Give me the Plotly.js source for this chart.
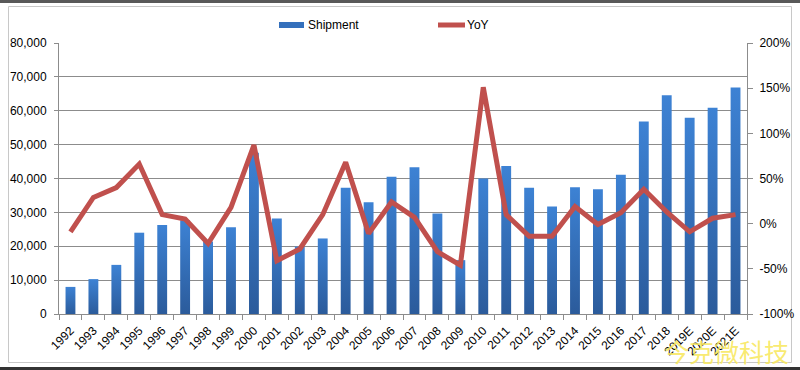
<!DOCTYPE html>
<html>
<head>
<meta charset="utf-8">
<script src="https://cdn.plot.ly/plotly-3.0.1.min.js"></script>
<style>
  html, body { margin: 0; padding: 0; background: #fff; }
  #chart { width: 800px; height: 370px; }
</style>
</head>
<body>
<div id="chart"></div>
<script>
// ---- data ----
const years = ["1992","1993","1994","1995","1996","1997","1998","1999","2000","2001",
               "2002","2003","2004","2005","2006","2007","2008","2009","2010","2011",
               "2012","2013","2014","2015","2016","2017","2018","2019E","2020E","2021E"];
const shipment = [8000,10300,14500,24000,26300,27700,21400,25600,47600,28200,
                  19900,22300,37300,33000,40500,43300,29700,15900,40000,43700,
                  37300,31700,37400,36800,41100,56800,64600,57900,60900,66900];
const yoy = [-9,29,40,66,10,5,-22,18,87,-41,
             -28,10,68,-11,24,7,-31,-46,151,10,
             -14,-14,19,-1,12,38,13,-9,6,10];
const leftTicks = [0,10000,20000,30000,40000,50000,60000,70000,80000];
const leftTickText = ["0","10,000","20,000","30,000","40,000","50,000","60,000","70,000","80,000"];
const rightTicks = [-100,-50,0,50,100,150,200];
const rightTickText = ["-100%","-50%","0%","50%","100%","150%","200%"];

// ---- geometry helpers (pixel -> paper) ----
const W = 800, H = 370;
const L = 59, R = 747, T = 43, B = 314;
const px = x => (x - L) / (R - L);
const py = y => (B - y) / (B - T);

const font = "Liberation Sans, Arial, sans-serif";
const gridC = "#8c8c8c";

const traces = [
  {
    type: "bar", x: years, y: shipment, name: "Shipment",
    marker: { color: "#3470BC", line: { width: 0 } },
    yaxis: "y", hoverinfo: "x+y"
  },
  {
    type: "scatter", mode: "lines", x: years, y: yoy, name: "YoY",
    line: { color: "#C0504D", width: 5 },
    yaxis: "y2"
  }
];

const layout = {
  width: W, height: H,
  margin: { l: L, r: W - R, t: T, b: H - B, pad: 0 },
  paper_bgcolor: "#fff", plot_bgcolor: "#fff",
  font: { family: font, size: 12, color: "#000" },
  showlegend: false,
  bargap: 0.57,
  xaxis: {
    type: "category",
    tickangle: -45,
    ticks: "outside", ticklen: 5, tickcolor: gridC, tickson: "boundaries",
    ticklabelstandoff: 4,
    showline: true, linecolor: gridC, linewidth: 1,
    showgrid: false, zeroline: false,
    tickfont: { family: font, size: 12, color: "#000" },
    fixedrange: true
  },
  yaxis: {
    range: [0, 80000],
    tickvals: leftTicks, ticktext: leftTickText,
    ticks: "outside", ticklen: 4, tickcolor: gridC,
    ticklabelstandoff: 5,
    showline: true, linecolor: gridC, linewidth: 1,
    showgrid: true, gridcolor: gridC, gridwidth: 1,
    zeroline: false,
    tickfont: { family: font, size: 12, color: "#000" },
    fixedrange: true
  },
  yaxis2: {
    overlaying: "y", side: "right",
    range: [-100, 200],
    tickvals: rightTicks, ticktext: rightTickText,
    ticks: "outside", ticklen: 5, tickcolor: gridC,
    ticklabelstandoff: 4,
    showline: true, linecolor: gridC, linewidth: 1,
    showgrid: false, zeroline: false,
    tickfont: { family: font, size: 12, color: "#000" },
    fixedrange: true
  },
  shapes: [
    { type: "rect", xref: "paper", yref: "paper",
      x0: px(8.5), x1: px(791.5), y0: py(6.5), y1: py(362.5),
      line: { color: "#c8c8c8", width: 1 }, fillcolor: "rgba(0,0,0,0)", layer: "below" },
    { type: "rect", xref: "paper", yref: "paper",
      x0: px(0), x1: px(800), y0: py(0), y1: py(3),
      line: { width: 0 }, fillcolor: "#595959", layer: "below" },
    { type: "rect", xref: "paper", yref: "paper",
      x0: px(0), x1: px(800), y0: py(367), y1: py(370),
      line: { width: 0 }, fillcolor: "#333333", layer: "below" },
    { type: "rect", xref: "paper", yref: "paper",
      x0: px(279), x1: px(304), y0: py(22), y1: py(28),
      line: { width: 0 }, fillcolor: "#3470BC" },
    { type: "line", xref: "paper", yref: "paper",
      x0: px(438), x1: px(465), y0: py(25), y1: py(25),
      line: { color: "#C0504D", width: 5 } }
  ],
  annotations: [
    { xref: "paper", yref: "paper", x: px(306), y: py(25), xanchor: "left", yanchor: "middle",
      text: "Shipment", showarrow: false, font: { family: font, size: 12, color: "#000" } },
    { xref: "paper", yref: "paper", x: px(465), y: py(25), xanchor: "left", yanchor: "middle",
      text: "YoY", showarrow: false, font: { family: font, size: 12, color: "#000" } },
    { xref: "paper", yref: "paper", x: px(726), y: py(351), xanchor: "center", yanchor: "middle",
      text: "今克微科技", showarrow: false,
      font: { family: "Noto Sans CJK SC, sans-serif", size: 25, color: "rgba(248,232,96,0.9)" } }
  ]
};

Plotly.newPlot("chart", traces, layout, { displayModeBar: false, staticPlot: true }).then(gd => {
  // vertical gradient on bars, like the original
  const svg = gd.querySelector("svg.main-svg");
  const ns = "http://www.w3.org/2000/svg";
  let defs = svg.querySelector("defs");
  if (!defs) { defs = document.createElementNS(ns, "defs"); svg.insertBefore(defs, svg.firstChild); }
  const lg = document.createElementNS(ns, "linearGradient");
  lg.setAttribute("id", "barGrad");
  lg.setAttribute("x1", "0"); lg.setAttribute("y1", "0");
  lg.setAttribute("x2", "0"); lg.setAttribute("y2", "1");
  [["0", "#3D82D4"], ["1", "#2B5B9B"]].forEach(([o, c]) => {
    const s = document.createElementNS(ns, "stop");
    s.setAttribute("offset", o); s.setAttribute("stop-color", c);
    lg.appendChild(s);
  });
  defs.appendChild(lg);
  gd.querySelectorAll(".barlayer .point path").forEach(p => {
    p.style.setProperty("fill", "url(#barGrad)");
  });
});
</script>
</body>
</html>
